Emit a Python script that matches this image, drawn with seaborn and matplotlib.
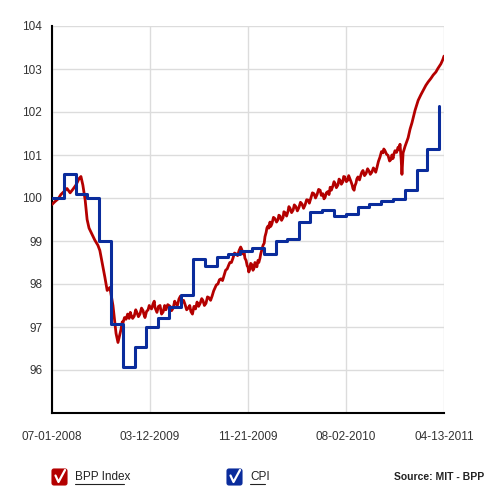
import numpy as np
import pandas as pd
import matplotlib
matplotlib.use("Agg")
import matplotlib.pyplot as plt
import seaborn as sns
from matplotlib.patches import FancyBboxPatch
from matplotlib.lines import Line2D

# ---------------- data ----------------
start_date = "2008-07-01"
end_date = "2011-04-13"

# BPP index: (days since 2008-07-01, index value)
bpp_points = [
    (0, 99.85), (8, 99.92), (16, 99.98), (23, 100.08), (31, 100.15), (39, 100.22), (47, 100.12),
    (54, 100.2), (62, 100.3), (70, 100.45), (75, 100.5), (80, 100.3), (86, 99.95), (91, 99.5),
    (96, 99.3), (104, 99.15), (111, 99.02), (119, 98.9), (124, 98.78), (130, 98.5), (137, 98.16),
    (143, 97.85), (150, 97.92), (158, 97.5), (166, 96.85), (171, 96.64),
    (179, 96.95), (182, 97.12), (184, 97.1), (188, 97.22), (192, 97.18), (196, 97.3), (200, 97.2),
    (203, 97.34), (205, 97.28), (209, 97.2), (213, 97.25), (217, 97.4), (220, 97.34), (224, 97.24),
    (228, 97.3), (232, 97.44), (236, 97.38), (238, 97.3), (241, 97.22), (245, 97.36), (249, 97.4),
    (252, 97.5), (254, 97.46), (258, 97.42), (262, 97.54), (265, 97.6), (267, 97.45), (270, 97.38),
    (272, 97.34), (276, 97.48), (280, 97.5), (284, 97.3), (288, 97.35), (292, 97.5), (295, 97.4),
    (300, 97.52), (306, 97.48), (310, 97.38), (314, 97.44), (318, 97.6), (321, 97.54), (325, 97.5),
    (329, 97.65), (333, 97.72), (337, 97.57), (341, 97.62), (345, 97.52), (349, 97.4), (353, 97.44),
    (357, 97.5), (360, 97.36), (364, 97.3), (368, 97.48), (372, 97.42), (376, 97.58), (380, 97.48),
    (384, 97.55), (388, 97.66), (391, 97.62), (395, 97.5), (399, 97.55), (403, 97.7), (407, 97.68),
    (411, 97.62), (415, 97.72), (419, 97.84), (422, 97.9), (426, 97.98), (430, 98.0), (434, 98.1),
    (438, 98.12), (442, 98.08), (446, 98.2), (450, 98.32), (454, 98.35), (458, 98.44), (461, 98.5),
    (465, 98.5), (469, 98.6), (473, 98.72), (477, 98.7), (481, 98.66), (485, 98.78), (489, 98.86),
    (492, 98.8), (495, 98.7), (498, 98.74), (500, 98.6), (503, 98.55), (506, 98.42), (508, 98.4),
    (510, 98.28), (513, 98.35), (515, 98.48), (518, 98.45), (521, 98.32), (524, 98.38), (526, 98.5),
    (529, 98.46), (531, 98.4), (534, 98.55), (536, 98.5), (539, 98.6), (541, 98.7), (544, 98.8),
    (547, 98.9), (550, 98.95), (552, 99.1), (555, 99.2), (557, 99.3), (560, 99.35), (562, 99.3),
    (565, 99.44), (567, 99.34), (570, 99.4), (574, 99.55), (578, 99.52), (582, 99.44), (586, 99.5),
    (588, 99.6), (591, 99.58), (595, 99.48), (599, 99.55), (601, 99.68), (604, 99.66), (608, 99.58),
    (612, 99.7), (614, 99.8), (617, 99.76), (621, 99.66), (625, 99.72), (628, 99.84), (632, 99.8),
    (636, 99.7), (640, 99.78), (644, 99.9), (648, 99.86), (652, 99.76), (656, 99.84), (660, 99.96),
    (664, 99.95), (667, 99.88), (671, 100.0), (675, 100.12), (679, 100.1), (683, 100.0), (687, 100.08),
    (691, 100.2), (695, 100.18), (698, 100.06), (702, 100.1), (705, 99.98), (708, 100.02), (711, 100.12),
    (715, 100.15), (718, 100.08), (721, 100.25), (724, 100.18), (728, 100.28), (731, 100.38),
    (734, 100.33), (737, 100.24), (741, 100.3), (744, 100.44), (747, 100.41), (750, 100.32),
    (754, 100.38), (756, 100.5), (759, 100.49), (763, 100.38), (767, 100.42), (769, 100.52),
    (772, 100.45), (775, 100.38), (778, 100.3), (780, 100.22), (783, 100.18), (785, 100.28),
    (788, 100.35), (790, 100.44), (793, 100.49), (797, 100.42), (801, 100.55), (803, 100.6),
    (806, 100.64), (810, 100.52), (814, 100.57), (818, 100.68), (822, 100.62), (825, 100.55),
    (829, 100.6), (833, 100.7), (837, 100.64), (839, 100.6), (842, 100.7), (846, 100.85),
    (850, 100.95), (854, 101.08), (858, 101.05), (860, 101.14), (863, 101.1), (867, 101.02),
    (871, 100.99), (875, 100.86), (879, 100.9), (881, 101.0), (884, 100.92), (886, 101.02),
    (889, 101.1), (893, 101.06), (897, 101.18), (899, 101.12), (902, 101.25), (905, 100.9),
    (907, 100.55), (910, 101.05), (915, 101.2), (923, 101.4), (928, 101.6), (933, 101.75),
    (941, 102.04), (949, 102.27), (956, 102.4), (962, 102.5), (969, 102.62), (975, 102.7),
    (982, 102.78), (988, 102.86), (995, 102.93), (1000, 103.01), (1008, 103.12), (1013, 103.22),
    (1016, 103.3),
]

# CPI: monthly values
cpi_months = ["2008-07", "2008-08", "2008-09", "2008-10", "2008-11", "2008-12",
              "2009-01", "2009-02", "2009-03", "2009-04", "2009-05", "2009-06",
              "2009-07", "2009-08", "2009-09", "2009-10", "2009-11", "2009-12",
              "2010-01", "2010-02", "2010-03", "2010-04", "2010-05", "2010-06",
              "2010-07", "2010-08", "2010-09", "2010-10", "2010-11", "2010-12",
              "2011-01", "2011-02", "2011-03", "2011-04"]
cpi_vals = [100.0, 100.55, 100.1, 100.0, 99.0, 97.07, 96.07, 96.53, 97.0, 97.22, 97.47, 97.75,
            98.58, 98.42, 98.63, 98.70, 98.76, 98.83, 98.70, 99.01, 99.05, 99.44, 99.67, 99.73,
            99.59, 99.62, 99.79, 99.85, 99.93, 99.98, 100.18, 100.64, 101.15, 102.15]

tick_labels = ["07-01-2008", "03-12-2009", "11-21-2009", "08-02-2010", "04-13-2011"]
y_ticks = [96, 97, 98, 99, 100, 101, 102, 103, 104]
legend_labels = ["BPP Index", "CPI"]
source_text = "Source: MIT - BPP"

RED = "#b40000"
BLUE = "#0a2c9c"

# ---------------- frames ----------------
t0 = pd.Timestamp(start_date)
bpp_days = [d for d, _ in bpp_points]
bpp_vals = [v for _, v in bpp_points]
bpp_df = pd.DataFrame({"date": t0 + pd.to_timedelta(bpp_days, unit="D"), "value": bpp_vals})
cpi_df = pd.DataFrame({"date": pd.to_datetime([m + "-01" for m in cpi_months]), "value": cpi_vals})

# ---------------- plot ----------------
sns.set_style("whitegrid")
plt.rcParams["font.family"] = ["Liberation Sans", "DejaVu Sans"]

fig = plt.figure(figsize=(5, 5), dpi=100)
ax = fig.add_axes([0.104, 0.174, 0.784, 0.774])

sns.lineplot(data=bpp_df, x="date", y="value", ax=ax, color=RED, linewidth=2.0, zorder=3)
sns.lineplot(data=cpi_df, x="date", y="value", ax=ax, color=BLUE, linewidth=2.2,
             drawstyle="steps-post", zorder=4)

ax.set_xlim(pd.Timestamp(start_date), pd.Timestamp(end_date))
ax.set_ylim(95, 104)
ax.set_yticks(y_ticks)
ax.set_yticklabels([str(v) for v in y_ticks])
tick_dates = [pd.to_datetime(s, format="%m-%d-%Y") for s in tick_labels]
ax.set_xticks(tick_dates)
ax.set_xticklabels(tick_labels)

ax.set_xlabel("")
ax.set_ylabel("")
ax.grid(True, color="#dcdcdc", linewidth=1.0)
for s in ["top", "right"]:
    ax.spines[s].set_visible(False)
for s in ["left", "bottom"]:
    ax.spines[s].set_visible(True)
    ax.spines[s].set_color("black")
    ax.spines[s].set_linewidth(1.5)
ax.tick_params(axis="both", which="major", length=4, width=1.2, color="#333333",
               labelsize=8.5, labelcolor="#333333", pad=3)
ax.tick_params(axis="x", length=5, pad=8)
ax.set_facecolor("white")

# ---------------- custom legend ----------------
def checkbox(x0, color, label, label_w):
    w, h = 0.030, 0.032
    y0 = 0.030
    box = FancyBboxPatch((x0, y0), w, h, boxstyle="round,pad=0,rounding_size=0.004",
                         transform=fig.transFigure, facecolor=color, edgecolor=color, lw=0.8)
    fig.patches.append(box)
    chk = Line2D([x0 + 0.007, x0 + 0.013, x0 + 0.026], [y0 + 0.019, y0 + 0.006, y0 + 0.030],
                 transform=fig.transFigure, color="white", lw=1.6)
    fig.lines.append(chk)
    tx = x0 + w + 0.016
    fig.text(tx, y0 + 0.016, label, fontsize=8.5, color="#222222", va="center", ha="left")
    fig.lines.append(Line2D([tx, tx + label_w], [y0 + 0.0025, y0 + 0.0025],
                            transform=fig.transFigure, color="#222222", lw=0.8))

checkbox(0.104, RED, legend_labels[0], 0.097)
checkbox(0.454, BLUE, legend_labels[1], 0.030)
fig.text(0.968, 0.046, source_text, fontsize=7.5, fontweight="bold", color="#222222",
         ha="right", va="center")

fig.savefig("out.png", dpi=100, facecolor="white")
